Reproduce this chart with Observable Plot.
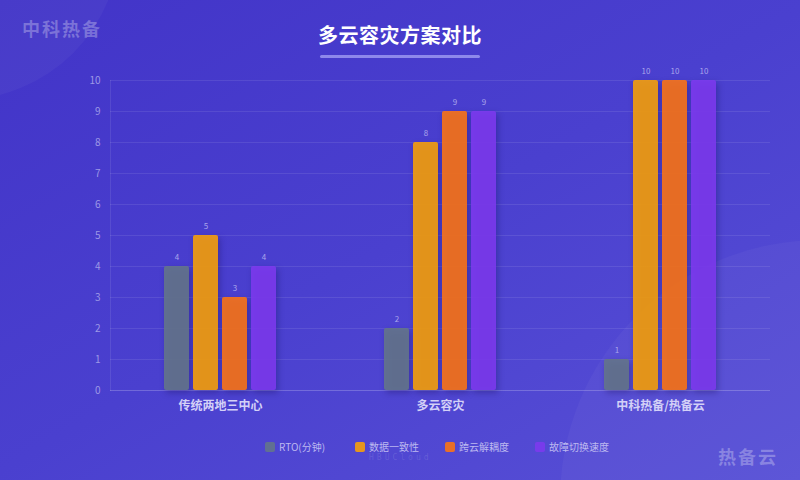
<!DOCTYPE html>
<html><head><meta charset="utf-8">
<script src="https://cdn.jsdelivr.net/npm/d3@7"></script>
<script src="https://cdn.jsdelivr.net/npm/@observablehq/plot@0.6"></script>
<style>
html,body{margin:0;padding:0;}
body{width:800px;height:480px;overflow:hidden;font-family:"Noto Sans CJK SC","Noto Sans",sans-serif;}
#wrap{position:relative;width:800px;height:480px;overflow:hidden;
 background:linear-gradient(150deg,#4234c8 0%,#4a40cf 50%,#5850d6 100%);}
.deco{position:absolute;border-radius:50%;background:rgba(255,255,255,0.035);}
#title{position:absolute;left:0;top:20px;width:800px;text-align:center;color:#fff;font-size:20px;font-weight:700;letter-spacing:0.5px;}
#uline{position:absolute;left:320px;top:55px;width:160px;height:3px;border-radius:2px;background:rgba(190,188,255,0.6);}
#wm1{position:absolute;left:22px;top:15px;font-size:18px;font-weight:700;color:rgba(255,255,255,0.28);letter-spacing:2px;}
#wm2{position:absolute;left:718px;top:443px;font-size:18px;font-weight:700;color:rgba(255,255,255,0.28);letter-spacing:2px;}
#wm3{position:absolute;left:369px;top:453px;font-size:8px;line-height:9px;color:rgba(255,255,255,0.12);letter-spacing:3px;font-family:"DejaVu Sans Mono",monospace;}
#legend{position:absolute;left:265px;top:440px;display:flex;}
.li{width:90px;display:flex;align-items:center;font-size:10px;line-height:14px;color:#bdb9f0;}
.sw{width:10px;height:10px;border-radius:2px;margin-right:4px;}
#chart{position:absolute;left:0;top:0;}
#chart g[aria-label="bar"] rect{filter:drop-shadow(2px 3px 3px rgba(20,10,80,0.35));}
</style></head>
<body><div id="wrap">
<div class="deco" style="left:-200px;top:-220px;width:320px;height:320px;"></div>
<div class="deco" style="left:560px;top:240px;width:520px;height:520px;"></div>
<div id="wm1">中科热备</div>
<div id="title">多云容灾方案对比</div>
<div id="uline"></div>
<div id="chart"></div>
<div id="legend"></div>
<div id="wm3">HBUCloud</div>
<div id="wm2">热备云</div>
</div>
<script>
const groups = ["传统两地三中心", "多云容灾", "中科热备/热备云"];
const seriesNames = ["RTO(分钟)", "数据一致性", "跨云解耦度", "故障切换速度"];
const seriesColors = ["#64748b", "#f59e0b", "#f97316", "#7c3aed"];
const valuesRTO = [4, 2, 1];
const valuesConsistency = [5, 8, 10];
const valuesDecoupling = [3, 9, 10];
const valuesFailover = [4, 9, 10];
const yTicks = [0,1,2,3,4,5,6,7,8,9,10];

const allValues = [valuesRTO, valuesConsistency, valuesDecoupling, valuesFailover];
const data = [];
groups.forEach((g, gi) => seriesNames.forEach((s, si) => data.push({group: g, series: s, value: allValues[si][gi]})));

const chart = Plot.plot({
  width: 800, height: 480,
  marginLeft: 110, marginRight: 30, marginTop: 80, marginBottom: 90,
  style: {background: "transparent", fontFamily: "'Noto Sans CJK SC','Noto Sans',sans-serif", overflow: "visible"},
  fx: {domain: groups, padding: 0, label: null},
  x: {domain: seriesNames, paddingInner: 0.138, paddingOuter: 1.86, axis: null},
  y: {domain: [0, 10], ticks: yTicks, axis: null},
  color: {domain: seriesNames, range: seriesColors},
  marks: [
    Plot.gridY(yTicks, {stroke: "#ffffff", strokeOpacity: 0.09, strokeWidth: 1}),
    Plot.ruleY([0], {stroke: "#ffffff", strokeOpacity: 0.14}),
    Plot.frame({anchor: "left", fx: () => groups[0], stroke: "#ffffff", strokeOpacity: 0.09}),
    Plot.axisY({fx: () => groups[0], ticks: yTicks, tickSize: 0, tickPadding: 10, fontSize: 10, fill: "#9d98e6", label: null}),
    Plot.axisFx({anchor: "bottom", tickSize: 0, tickPadding: 11, fontSize: 12, fontWeight: 600, fill: "#d3d0f7", label: null}),
    Plot.barY(data, {fx: "group", x: "series", y: "value", fill: "series", fillOpacity: 0.9, rx: 2}),
    Plot.text(data, {fx: "group", x: "series", y: "value", text: d => String(d.value), dy: -9, fontSize: 8, fill: "#a9a5ec"})
  ]
});
document.getElementById("chart").append(chart);

const legend = document.getElementById("legend");
seriesNames.forEach((s, i) => {
  const it = document.createElement("div"); it.className = "li";
  const sw = document.createElement("div"); sw.className = "sw"; sw.style.background = seriesColors[i]; sw.style.opacity = 0.9;
  const t = document.createElement("span"); t.textContent = s;
  it.append(sw, t); legend.append(it);
});
</script>
</body></html>
